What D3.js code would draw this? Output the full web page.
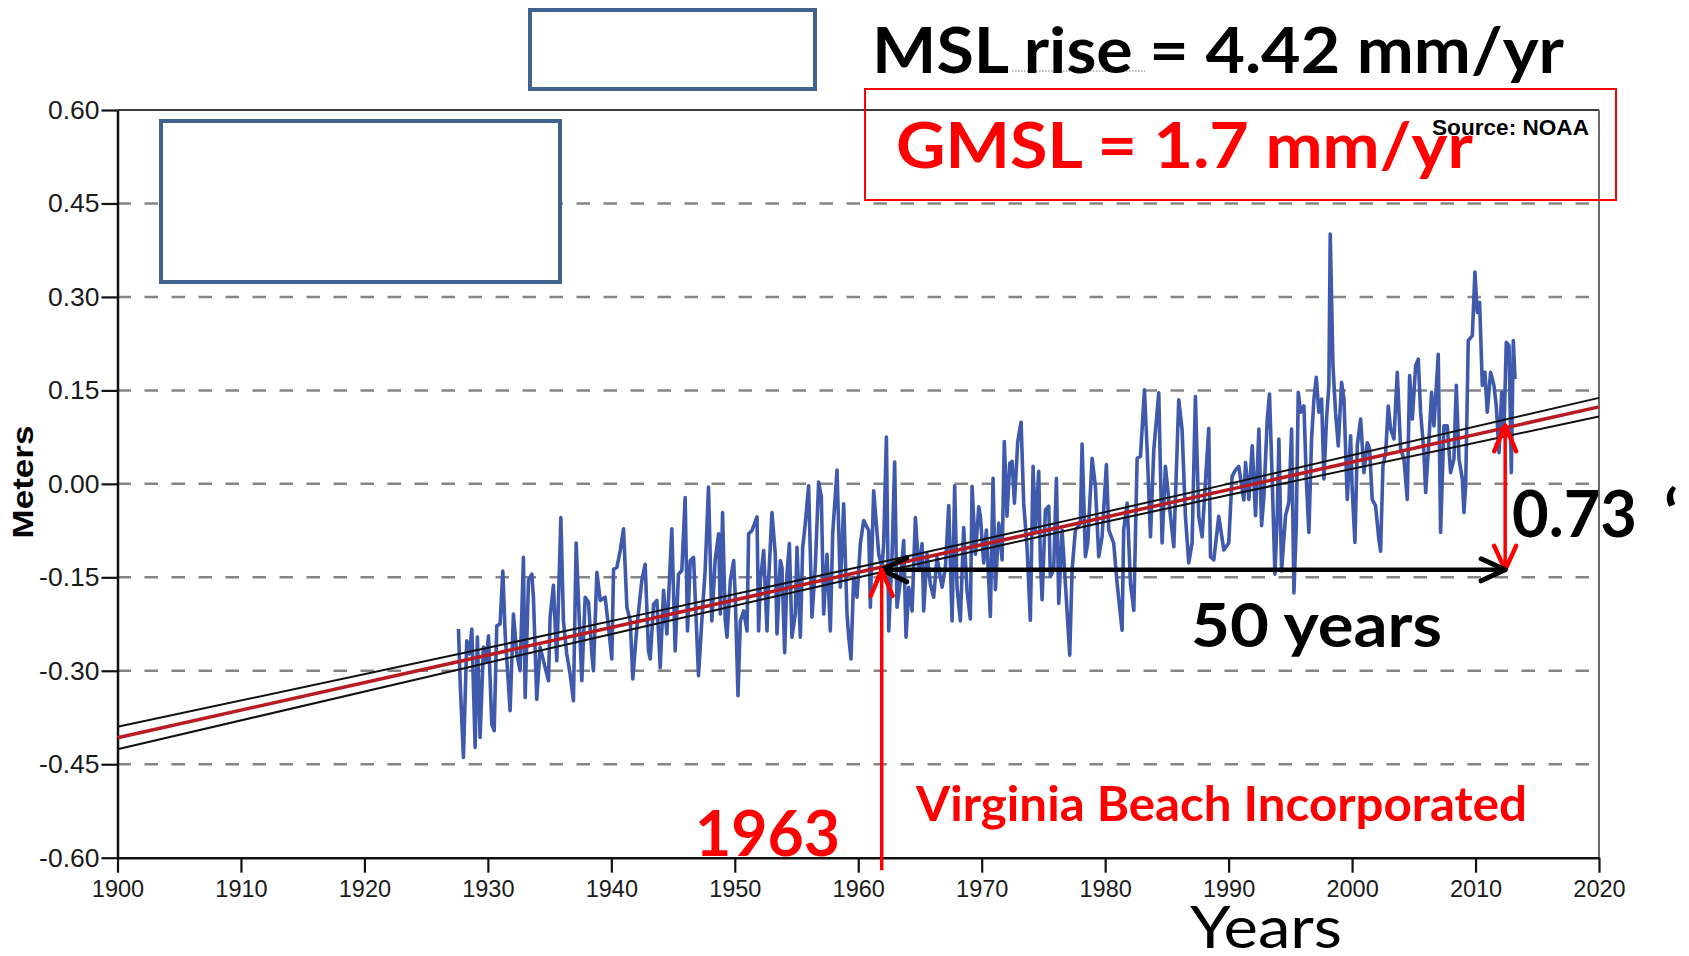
<!DOCTYPE html>
<html>
<head>
<meta charset="utf-8">
<script src="https://cdn.jsdelivr.net/npm/d3@7"></script>
<style>
  body { margin: 0; background: #fff; }
  svg { display: block; }
  .tick text { font-family: "Liberation Sans", Arial, sans-serif; fill: #1a1a1a; }
  .note { font-family: Lato, "Open Sans", sans-serif; }
</style>
</head>
<body>
<svg id="chart" width="1689" height="956"></svg>
<script>
const yearTicks = [1900, 1910, 1920, 1930, 1940, 1950, 1960, 1970, 1980, 1990, 2000, 2010, 2020];
const meterTicks = [-0.60, -0.45, -0.30, -0.15, 0.00, 0.15, 0.30, 0.45, 0.60];

// monthly mean sea level (m)
const seaYears = [
  1927.62, 1927.75, 1928.02, 1928.29, 1928.51, 1928.70, 1928.97, 1929.15, 1929.37, 1929.64,
  1929.86, 1930.05, 1930.32, 1930.51, 1930.72, 1930.99, 1931.21, 1931.40, 1931.80, 1932.07,
  1932.34, 1932.61, 1932.88, 1933.02, 1933.29, 1933.56, 1933.69, 1933.96, 1934.23, 1934.64,
  1934.91, 1935.04, 1935.31, 1935.58, 1935.91, 1936.12, 1936.39, 1936.66, 1936.93, 1937.15,
  1937.34, 1937.61, 1937.88, 1938.15, 1938.42, 1938.55, 1938.83, 1939.10, 1939.50, 1939.77,
  1940.04, 1940.18, 1940.45, 1940.72, 1940.99, 1941.26, 1941.53, 1941.74, 1942.07, 1942.47,
  1942.74, 1943.01, 1943.15, 1943.42, 1943.69, 1943.96, 1944.23, 1944.50, 1944.90, 1945.17,
  1945.44, 1945.71, 1945.98, 1946.17, 1946.39, 1946.66, 1947.06, 1947.33, 1947.60, 1947.87,
  1948.14, 1948.41,
  1948.69, 1948.83, 1949.01, 1949.23, 1949.37, 1949.64, 1949.91, 1950.04, 1950.26, 1950.45,
  1950.72, 1950.99, 1951.12, 1951.39, 1951.80, 1951.93, 1952.07, 1952.34, 1952.61, 1952.74,
  1953.01, 1953.28, 1953.42, 1953.69, 1953.82, 1954.04, 1954.23, 1954.42, 1954.63, 1954.90,
  1955.04, 1955.31, 1955.50, 1955.71, 1955.98, 1956.25, 1956.52, 1956.79, 1957.01, 1957.20,
  1957.47, 1957.74, 1957.93, 1958.28, 1958.55, 1958.82, 1959.09, 1959.23, 1959.41, 1959.63,
  1959.90, 1960.17, 1960.44, 1960.85, 1960.98, 1961.25, 1961.66, 1961.93, 1962.06, 1962.28,
  1962.47, 1962.74, 1962.95, 1963.14, 1963.41, 1963.68, 1963.87, 1964.09, 1964.36, 1964.63,
  1964.90, 1965.17, 1965.30, 1965.57, 1965.84, 1966.11, 1966.38, 1966.79, 1967.06, 1967.33,
  1967.60, 1967.81, 1968.00, 1968.27, 1968.54, 1968.81, 1969.08, 1969.22, 1969.49, 1969.76,
  1969.89, 1970.16, 1970.38, 1970.70, 1970.92, 1971.11, 1971.38, 1971.65, 1971.83, 1972.05,
  1972.27, 1972.46, 1972.65, 1972.92, 1973.19, 1973.40, 1973.67, 1973.94, 1974.16, 1974.35,
  1974.62, 1974.75, 1974.89, 1975.16, 1975.43, 1975.56, 1975.83, 1976.05, 1976.24, 1976.51,
  1976.78, 1977.13, 1977.32, 1977.59, 1977.99, 1978.13, 1978.40, 1978.59, 1978.94, 1979.21,
  1979.48, 1979.75, 1980.10, 1980.29, 1980.69, 1980.97, 1981.37, 1981.50, 1981.78, 1982.05,
  1982.32, 1982.59, 1982.86, 1983.18, 1983.40, 1983.67, 1983.94, 1984.34, 1984.61, 1984.88,
  1985.29, 1985.56, 1985.96, 1986.23, 1986.50, 1986.77, 1987.04, 1987.31, 1987.58, 1987.85,
  1988.39, 1988.53, 1988.80, 1989.20, 1989.61, 1990.01, 1990.28, 1990.55, 1990.82, 1991.23,
  1991.37, 1991.64, 1991.91, 1992.18, 1992.45, 1992.67, 1992.86, 1993.13, 1993.31, 1993.53,
  1993.75, 1993.94, 1994.07, 1994.29, 1994.61, 1994.88, 1995.10, 1995.29, 1995.48, 1995.64,
  1995.83, 1996.10, 1996.29, 1996.50, 1996.72, 1996.91, 1997.10, 1997.31, 1997.53, 1997.72,
  1997.93, 1998.12, 1998.23, 1998.45, 1998.66, 1998.88, 1999.15, 1999.34, 1999.61, 1999.88,
  2000.01, 2000.23, 2000.42, 2000.69, 2000.96, 2001.23, 2001.42, 2001.63, 2001.90, 2002.17,
  2002.31, 2002.50, 2002.72, 2002.93, 2003.12, 2003.39, 2003.66, 2003.93, 2004.20, 2004.47,
  2004.66, 2004.88, 2005.15, 2005.36, 2005.55, 2005.82, 2005.96, 2006.23, 2006.44, 2006.63,
  2006.98, 2007.17, 2007.44, 2007.71, 2007.98, 2008.25, 2008.44, 2008.66, 2008.93, 2009.06,
  2009.20, 2009.41, 2009.74, 2009.95, 2010.14, 2010.33, 2010.55, 2010.76, 2010.95, 2011.22,
  2011.49, 2011.68, 2011.90, 2012.12, 2012.30, 2012.49, 2012.71, 2012.90, 2013.06, 2013.20
];
const seaLevels = [
  -0.233, -0.316, -0.439, -0.252, -0.273, -0.233, -0.423, -0.246, -0.407, -0.262,
  -0.284, -0.244, -0.386, -0.396, -0.228, -0.225, -0.140, -0.241, -0.364, -0.209,
  -0.273, -0.300, -0.118, -0.343, -0.155, -0.145, -0.182, -0.346, -0.262, -0.295,
  -0.316, -0.214, -0.163, -0.284, -0.054, -0.220, -0.273, -0.305, -0.348, -0.095,
  -0.187, -0.316, -0.182, -0.190, -0.273, -0.300, -0.142, -0.187, -0.182, -0.230,
  -0.281, -0.137, -0.134, -0.107, -0.072, -0.198, -0.220, -0.313, -0.230, -0.155,
  -0.129, -0.268, -0.281, -0.193, -0.187, -0.295, -0.171, -0.241, -0.072, -0.268,
  -0.145, -0.139, -0.022, -0.236, -0.123, -0.118, -0.308, -0.220, -0.139, -0.005,
  -0.220, -0.123,
  -0.080, -0.209, -0.046, -0.220, -0.246, -0.155, -0.123, -0.182, -0.340, -0.220,
  -0.204, -0.236, -0.080, -0.075, -0.053, -0.236, -0.155, -0.107, -0.236, -0.155,
  -0.046, -0.113, -0.241, -0.123, -0.134, -0.271, -0.145, -0.096, -0.246, -0.209,
  -0.102, -0.246, -0.102, -0.064, -0.003, -0.214, -0.134, 0.003, -0.021, -0.209,
  -0.113, -0.236, -0.080, 0.022, -0.166, -0.032, -0.209, -0.246, -0.281, -0.150,
  -0.182, -0.096, -0.059, -0.075, -0.198, -0.011, -0.113, -0.134, -0.096, 0.075,
  -0.236, -0.113, 0.035, -0.198, -0.155, -0.091, -0.246, -0.166, -0.204, -0.054,
  -0.139, -0.096, -0.204, -0.113, -0.161, -0.182, -0.118, -0.166, -0.134, -0.035,
  -0.220, -0.003, -0.166, -0.220, -0.070, -0.171, -0.217, -0.004, -0.113, -0.037,
  -0.052, -0.127, -0.074, -0.213, 0.009, -0.170, -0.063, -0.122, 0.068, -0.052,
  0.033, 0.036, -0.031, 0.068, 0.099, -0.031, -0.101, -0.219, 0.028, -0.074,
  0.020, -0.122, -0.186, -0.042, -0.036, -0.149, -0.138, 0.009, -0.192, -0.074,
  -0.160, -0.275, -0.138, -0.074, -0.063, 0.064, -0.117, -0.095, 0.041, -0.004,
  -0.117, -0.085, 0.031, -0.074, -0.095, -0.160, -0.235, -0.074, -0.031, -0.160,
  -0.203, 0.041, 0.044, 0.151, 0.055, -0.085, 0.055, 0.146, -0.095, 0.028,
  -0.052, -0.101, 0.135, 0.087, -0.052, -0.127, -0.095, 0.140, -0.052, -0.085,
  0.089, -0.117, -0.122, -0.052, -0.106, -0.095, 0.012, 0.022, 0.028, -0.026,
  0.034, -0.025, 0.061, -0.051, 0.088, -0.067, -0.019, 0.104, 0.144, 0.008,
  -0.145, -0.051, 0.072, -0.140, -0.051, -0.030, 0.088, -0.175, -0.067, 0.147,
  0.115, 0.125, 0.008, -0.078, 0.072, 0.136, 0.171, 0.115, 0.136, 0.008,
  0.104, 0.158, 0.401, 0.190, 0.115, 0.061, 0.163, 0.136, -0.025, 0.077,
  -0.009, -0.094, 0.061, 0.104, 0.018, 0.066, 0.056, -0.025, -0.035, -0.089,
  -0.108, 0.029, 0.050, 0.125, 0.088, 0.072, 0.179, 0.056, 0.040, -0.025,
  0.174, 0.104, 0.190, 0.200, 0.115, 0.050, -0.014, 0.072, 0.147, 0.093,
  0.208, -0.078, 0.093, 0.093, 0.018, 0.040, 0.158, 0.040, 0.008, -0.046,
  -0.003, 0.230, 0.238, 0.340, 0.275, 0.291, 0.158, 0.179, 0.115, 0.179,
  0.158, 0.125, 0.050, 0.147, 0.083, 0.227, 0.222, 0.018, 0.230, 0.168
];

// linear trend and its confidence band
const trendYears = [1900, 2020];
const trendLevels = [-0.4075, 0.1235];
const bandYears = [1900, 1930, 1962, 1990, 2020];
const bandUpper = [-0.390, -0.263, -0.125, -0.000, 0.138];
const bandLower = [-0.426, -0.287, -0.141, -0.018, 0.108];

// annotation anchors
const incorporatedYear = 1961.9;
const spanEndYear = 2012.4;
const spanLevel = -0.138;
const riseTopLevel = 0.094;

const svg = d3.select('#chart');

const x = d3.scaleLinear().domain([1900, 2020]).range([117.5, 1599]);
const y = d3.scaleLinear().domain([-0.6, 0.6]).range([857.7, 110]);

// dashed grid
svg.append('g')
  .selectAll('line')
  .data(meterTicks.filter(d => Math.abs(d) < 0.6))
  .join('line')
    .attr('x1', x(1900)).attr('x2', x(2020))
    .attr('y1', d => y(d)).attr('y2', d => y(d))
    .attr('stroke', '#858585')
    .attr('stroke-width', 2.5)
    .attr('stroke-dasharray', '13.5,13.5');

// frame top / right
svg.append('line')
  .attr('x1', x(1900)).attr('x2', x(2020)).attr('y1', y(0.6)).attr('y2', y(0.6))
  .attr('stroke', '#3a3a3a').attr('stroke-width', 2);
svg.append('line')
  .attr('x1', x(2020)).attr('x2', x(2020)).attr('y1', y(0.6)).attr('y2', y(-0.6))
  .attr('stroke', '#6a6a6a').attr('stroke-width', 2);

// axes
const xAxis = d3.axisBottom(x).tickValues(yearTicks).tickSize(15).tickSizeOuter(0)
  .tickPadding(8).tickFormat(d3.format('d'));
const yAxis = d3.axisLeft(y).tickValues(meterTicks).tickSize(16).tickSizeOuter(0)
  .tickPadding(2).tickFormat(d => d.toFixed(2));

const gx = svg.append('g').attr('transform', `translate(0,${y(-0.6)})`).call(xAxis);
const gy = svg.append('g').attr('transform', `translate(${x(1900)},0)`).call(yAxis);
gx.selectAll('text').attr('font-size', 23.5);
gy.selectAll('text').attr('font-size', 26.5);
[gx, gy].forEach(g => {
  g.select('.domain').attr('stroke', '#111').attr('stroke-width', 2.5);
  g.selectAll('.tick line').attr('stroke', '#111').attr('stroke-width', 2.2);
});

svg.append('text')
  .attr('transform', `translate(33,482) rotate(-90)`)
  .attr('text-anchor', 'middle')
  .attr('font-family', '"Liberation Sans", Arial, sans-serif')
  .attr('font-weight', 'bold')
  .attr('font-size', 30)
  .attr('textLength', 113)
  .attr('lengthAdjust', 'spacingAndGlyphs')
  .text('Meters');

// sea level series
const seaPoints = d3.zip(seaYears, seaLevels);
const line = d3.line().x(d => x(d[0])).y(d => y(d[1]));

svg.append('path')
  .datum(seaPoints)
  .attr('fill', 'none')
  .attr('stroke', '#3f5aad')
  .attr('stroke-width', 3.6)
  .attr('stroke-linejoin', 'round')
  .attr('d', line);

// trend + band
const smooth = d3.line().curve(d3.curveNatural).x(d => x(d[0])).y(d => y(d[1]));
[bandUpper, bandLower].forEach(band => {
  svg.append('path')
    .datum(d3.zip(bandYears, band))
    .attr('fill', 'none')
    .attr('stroke', '#111')
    .attr('stroke-width', 2)
    .attr('d', smooth);
});
svg.append('path')
  .datum(d3.zip(trendYears, trendLevels))
  .attr('fill', 'none')
  .attr('stroke', '#b81c22')
  .attr('stroke-width', 3.5)
  .attr('d', line);

// empty blue boxes
const boxes = [
  { x: 530, y: 10, w: 285, h: 79 },
  { x: 161, y: 121, w: 399, h: 161 }
];
svg.append('g')
  .selectAll('rect')
  .data(boxes)
  .join('rect')
    .attr('x', d => d.x).attr('y', d => d.y)
    .attr('width', d => d.w).attr('height', d => d.h)
    .attr('fill', '#fff')
    .attr('stroke', '#41628f')
    .attr('stroke-width', 4);

// arrows
function chevron(tx, ty, arms, color, width) {
  svg.append('path')
    .attr('d', `M${tx + arms[0][0]},${ty + arms[0][1]}L${tx},${ty}L${tx + arms[1][0]},${ty + arms[1][1]}`)
    .attr('fill', 'none')
    .attr('stroke', color)
    .attr('stroke-width', width)
    .attr('stroke-linecap', 'round')
    .attr('stroke-linejoin', 'round');
}

const ax = x(incorporatedYear);
const ex = x(spanEndYear);
const sy = y(spanLevel);
const ty = y(riseTopLevel);

svg.append('line')
  .attr('x1', ex).attr('x2', ex).attr('y1', ty + 2).attr('y2', sy - 2)
  .attr('stroke', '#ff0000').attr('stroke-width', 3.5);
chevron(ex, ty, [[-11, 26], [11, 26]], '#ff0000', 4.5);
chevron(ex, sy, [[-11, -24], [11, -24]], '#ff0000', 4.5);

svg.append('line')
  .attr('x1', ax + 2).attr('x2', ex - 2).attr('y1', sy).attr('y2', sy)
  .attr('stroke', '#000').attr('stroke-width', 4.5);
chevron(ax, sy, [[25, -12], [25, 12]], '#000', 5);
chevron(ex, sy, [[-24, -11], [-24, 11]], '#000', 5);

svg.append('line')
  .attr('x1', ax).attr('x2', ax).attr('y1', sy + 2).attr('y2', y(-0.62))
  .attr('stroke', '#ff0000').attr('stroke-width', 3.5);
chevron(ax, sy, [[-11, 26], [11, 26]], '#ff0000', 4.5);

// source note + red box
svg.append('text')
  .attr('x', 1432).attr('y', 135)
  .attr('font-family', '"Liberation Sans", Arial, sans-serif')
  .attr('font-weight', 'bold')
  .attr('font-size', 22)
  .attr('textLength', 157)
  .attr('lengthAdjust', 'spacingAndGlyphs')
  .text('Source: NOAA');

svg.append('rect')
  .attr('x', 865).attr('y', 89).attr('width', 751).attr('height', 111)
  .attr('fill', 'none').attr('stroke', '#ff0000').attr('stroke-width', 2);

// artifacts under the headline
svg.append('line')
  .attr('x1', 1012).attr('x2', 1145).attr('y1', 71).attr('y2', 71)
  .attr('stroke', '#777').attr('stroke-width', 1).attr('stroke-dasharray', '1.5,1.5');

const notes = [
  { text: 'MSL rise = 4.42 mm/yr', x: 872, y: 72.7, size: 64, len: 692, color: '#000', weight: 'bold' },
  { text: 'GMSL = 1.7 mm/yr', x: 896, y: 168.3, size: 63, len: 577, color: '#ff0000', weight: 'bold' },
  { text: '0.73', x: 1512, y: 536.7, size: 65, len: 125, color: '#000', weight: 'bold' },
  { text: '\u2018', x: 1664, y: 536.7, size: 65, len: null, color: '#000', weight: 'bold' },
  { text: '50 years', x: 1191, y: 646.7, size: 61, len: 251, color: '#000', weight: 'bold' },
  { text: 'Virginia Beach Incorporated', x: 916, y: 821, size: 47, len: 611, color: '#ff0000', weight: 'bold' },
  { text: '1963', x: 695, y: 856.4, size: 64, len: 145, color: '#ff0000', weight: 'bold' },
  { text: 'Years', x: 1190, y: 948.3, size: 58, len: 152, color: '#000', weight: 'normal' }
];

svg.append('g')
  .selectAll('text')
  .data(notes)
  .join('text')
    .attr('class', 'note')
    .attr('x', d => d.x)
    .attr('y', d => d.y)
    .attr('font-size', d => d.size)
    .style('font-weight', d => d.weight)
    .attr('fill', d => d.color)
    .attr('textLength', d => d.len)
    .attr('lengthAdjust', 'spacingAndGlyphs')
    .text(d => d.text);
</script>
</body>
</html>
